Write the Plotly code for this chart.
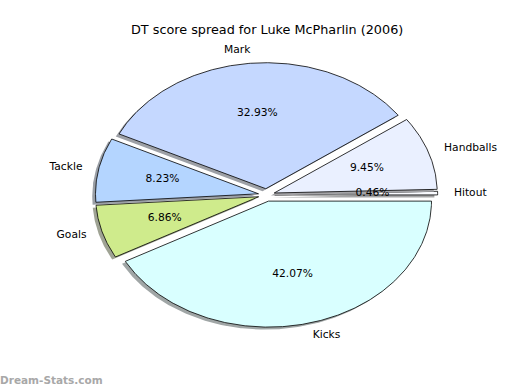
import numpy as np
import plotly.graph_objects as go

# ---- data ----
labels = ["Hitout", "Handballs", "Mark", "Tackle", "Goals", "Kicks"]
values = [0.46, 9.45, 32.93, 8.23, 6.86, 42.07]
colors = ["#FAFBFF", "#EAF0FF", "#C5D8FF", "#B4D5FF", "#CFEB8C", "#D9FFFF"]
explode = [0.05, 0.05, 0.05, 0.05, 0.05, 0.05]
title = "DT score spread for Luke McPharlin (2006)"
watermark = "Dream-Stats.com"

# ---- layout geometry (pixels) ----
W, H = 520, 390
cx, cy = 266.5, 195.0   # pie centre in pixels
rx, ry = 163.0, 126.0   # pixels per unit radius

xr = [-cx / rx, (W - cx) / rx]
yr = [-(H - cy) / ry, cy / ry]

def hex2rgb(h):
    h = h.lstrip("#")
    return [int(h[i:i + 2], 16) / 255 for i in (0, 2, 4)]

def shadow_color(h):
    r = hex2rgb(h)
    c = [0.5 * 0.3 * v + 0.5 for v in r]
    return "rgb(%d,%d,%d)" % tuple(int(round(v * 255)) for v in c)

fig = go.Figure()
total = sum(values)
theta = 0.0
lab_x, lab_y, lab_pos = [], [], []
pct_x, pct_y, pct_t = [], [], []
for lab, v, col, ex in zip(labels, values, colors, explode):
    t1 = theta
    t2 = theta + 360.0 * v / total
    mid = np.radians((t1 + t2) / 2)
    ox, oy = ex * np.cos(mid), ex * np.sin(mid)
    ang = np.radians(np.linspace(t1, t2, max(int(abs(t2 - t1) * 2), 4)))
    px = np.concatenate([[ox], ox + np.cos(ang), [ox]])
    py = np.concatenate([[oy], oy + np.sin(ang), [oy]])
    # shadow
    fig.add_trace(go.Scatter(x=px - 0.02, y=py - 0.02, mode="lines", fill="toself",
                             fillcolor=shadow_color(col), line=dict(width=0),
                             hoverinfo="skip", showlegend=False))
    fig.add_trace(go.Scatter(x=px, y=py, mode="lines", fill="toself",
                             fillcolor=col, line=dict(color="black", width=0.8),
                             hoverinfo="skip", showlegend=False))
    lx = ox + 1.1 * np.cos(mid)
    ly = oy + 1.1 * np.sin(mid)
    lab_x.append(lx)
    lab_y.append(ly)
    lab_pos.append("middle right" if lx > 0 else "middle left")
    pct_x.append(ox + 0.6 * np.cos(mid))
    pct_y.append(oy + 0.6 * np.sin(mid))
    pct_t.append("%.2f%%" % (100 * v / total))
    theta = t2

fig.add_trace(go.Scatter(x=lab_x, y=lab_y, mode="text", text=labels,
                         textposition=lab_pos,
                         textfont=dict(family="DejaVu Sans", size=10.7, color="black"),
                         hoverinfo="skip", showlegend=False))
fig.add_trace(go.Scatter(x=pct_x, y=pct_y, mode="text", text=pct_t,
                         textposition="middle center",
                         textfont=dict(family="DejaVu Sans", size=10.7, color="black"),
                         hoverinfo="skip", showlegend=False))

fig.add_annotation(x=266.5 / W, y=1 - 30 / H, xref="paper", yref="paper",
                   text=title, showarrow=False, xanchor="center", yanchor="middle",
                   font=dict(family="DejaVu Sans", size=12.8, color="black"))
fig.add_annotation(x=0, y=1 - 380 / H, xref="paper", yref="paper",
                   text="<b>" + watermark + "</b>", showarrow=False,
                   xanchor="left", yanchor="middle", xshift=-2,
                   font=dict(family="DejaVu Sans", size=10.5, color="#A8A8A8"))

fig.update_layout(width=W, height=H, margin=dict(l=0, r=0, t=0, b=0),
                  paper_bgcolor="white", plot_bgcolor="white",
                  xaxis=dict(range=xr, visible=False, fixedrange=True),
                  yaxis=dict(range=yr, visible=False, fixedrange=True))
fig.write_html("out.html", config={"staticPlot": True},
               post_script="document.body.style.margin='0';document.body.style.overflow='hidden';")
